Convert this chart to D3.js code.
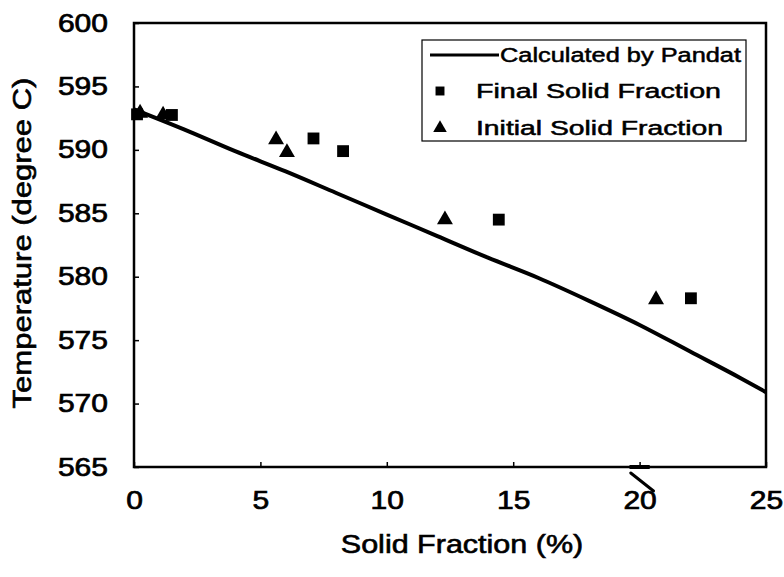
<!DOCTYPE html>
<html>
<head>
<meta charset="utf-8">
<script src="https://cdn.jsdelivr.net/npm/d3@7"></script>
<style>
  html, body { margin: 0; padding: 0; background: #fff; }
  svg { display: block; }
  text { font-family: "Liberation Sans", Arial, sans-serif; fill: #000; }
</style>
</head>
<body>
<svg id="chart" width="784" height="577"></svg>
<script>
// ---- data ----
const xTicks = [0, 5, 10, 15, 20, 25];
const yTicks = [565, 570, 575, 580, 585, 590, 595, 600];

// Calculated by Pandat (line)
const calcX = [0, 2, 4, 6, 8, 10, 12, 14, 16, 18, 20, 22, 24, 25];
const calcT = [593.2, 591.6, 589.9, 588.3, 586.6, 584.9, 583.2, 581.5, 579.9, 578.1, 576.2, 574.1, 572.0, 570.9];

// Final Solid Fraction (squares)
const finalX = [0.12, 1.5, 7.1, 8.27, 14.43, 22.03];
const finalT = [592.8, 592.75, 590.9, 589.9, 584.5, 578.3];

// Initial Solid Fraction (triangles)
const initX = [0.24, 1.15, 5.62, 6.05, 12.3, 20.65];
const initT = [592.9, 592.75, 590.8, 589.8, 584.5, 578.2];

const legendLabels = ["Calculated by Pandat", "Final Solid Fraction", "Initial Solid Fraction"];

// ---- layout ----
const svg = d3.select("#chart");
const L = 134, R = 766, T = 23, B = 467;
const x = d3.scaleLinear().domain([0, 25]).range([L, R]);
const y = d3.scaleLinear().domain([565, 600]).range([B, T]);

function stretch(sel, k) {
  sel.each(function() {
    const w = this.getComputedTextLength();
    d3.select(this).attr("textLength", w * k).attr("lengthAdjust", "spacingAndGlyphs");
  });
}

// axes (ticks inward)
const gx = svg.append("g").attr("transform", `translate(0,${B})`)
  .call(d3.axisBottom(x).tickValues(xTicks).tickSize(-5).tickPadding(24).tickFormat(d3.format("d")));
const gy = svg.append("g").attr("transform", `translate(${L},0)`)
  .call(d3.axisLeft(y).tickValues(yTicks).tickSize(-5).tickPadding(26).tickFormat(d3.format("d")));
[gx, gy].forEach(g => {
  g.select(".domain").remove();
  g.selectAll(".tick line").attr("stroke", "#000").attr("stroke-width", 1.5);
  g.selectAll(".tick text").attr("font-size", 25).attr("fill", "#000")
    .attr("stroke", "#000").attr("stroke-width", 0.7)
    .style("font-family", '"Liberation Sans", Arial, sans-serif');
});
gx.selectAll(".tick text").attr("dy", "0.71em");
stretch(gx.selectAll(".tick text"), 1.2);
stretch(gy.selectAll(".tick text"), 1.2);

// frame
svg.append("rect").attr("x", L).attr("y", T).attr("width", R - L).attr("height", B - T)
  .attr("fill", "none").attr("stroke", "#000").attr("stroke-width", 2.5);

// scan artifact near x=20
svg.append("line").attr("x1", x(19.6)).attr("x2", x(20.4)).attr("y1", B).attr("y2", B)
  .attr("stroke", "#000").attr("stroke-width", 4);
svg.append("line").attr("x1", x(19.65)).attr("y1", B + 6).attr("x2", x(20.55)).attr("y2", B + 24)
  .attr("stroke", "#000").attr("stroke-width", 3).attr("stroke-linecap", "round");

// line
const calc = calcX.map((d, i) => [d, calcT[i]]);
svg.append("path").datum(calc)
  .attr("fill", "none").attr("stroke", "#000").attr("stroke-width", 4)
  .attr("d", d3.line().x(d => x(d[0])).y(d => y(d[1])).curve(d3.curveMonotoneX));

// markers
const sq = d3.symbol().type(d3.symbolSquare).size(140);
const tri = d3.symbol().type(d3.symbolTriangle).size(110);
svg.append("g").selectAll("path").data(initX.map((d, i) => [d, initT[i]])).join("path")
  .attr("d", tri).attr("fill", "#000")
  .attr("transform", d => `translate(${x(d[0])},${y(d[1])})`);
svg.append("g").selectAll("path").data(finalX.map((d, i) => [d, finalT[i]])).join("path")
  .attr("d", sq).attr("fill", "#000")
  .attr("transform", d => `translate(${x(d[0])},${y(d[1])})`);

// axis titles
const xt = svg.append("text").attr("x", 462).attr("y", 553)
  .attr("text-anchor", "middle").attr("font-size", 25)
  .attr("stroke", "#000").attr("stroke-width", 0.6).text("Solid Fraction (%)");
stretch(xt, 1.22);
const yt = svg.append("text").attr("transform", `translate(31,243) rotate(-90)`)
  .attr("text-anchor", "middle").attr("font-size", 25)
  .attr("stroke", "#000").attr("stroke-width", 0.6).text("Temperature (degree C)");
stretch(yt, 1.24);

// legend
const lg = svg.append("g");
lg.append("rect").attr("x", 422).attr("y", 40).attr("width", 324).attr("height", 101)
  .attr("fill", "#fff").attr("stroke", "#000").attr("stroke-width", 1.2);
lg.append("line").attr("x1", 430).attr("x2", 499).attr("y1", 55).attr("y2", 55)
  .attr("stroke", "#000").attr("stroke-width", 3);
lg.append("path").attr("d", sq.size(80)()).attr("transform", "translate(440,91)").attr("fill", "#000");
lg.append("path").attr("d", tri.size(80)()).attr("transform", "translate(440,128)").attr("fill", "#000");
const lx = [500, 476, 476], ly = [55, 91, 128], lw = [241, 245, 247];
legendLabels.forEach((t, i) => {
  lg.append("text").attr("x", lx[i]).attr("y", ly[i]).attr("dy", "0.35em")
    .attr("font-size", 20).attr("stroke", "#000").attr("stroke-width", 0.5)
    .attr("textLength", lw[i]).attr("lengthAdjust", "spacingAndGlyphs").text(t);
});
</script>
</body>
</html>
